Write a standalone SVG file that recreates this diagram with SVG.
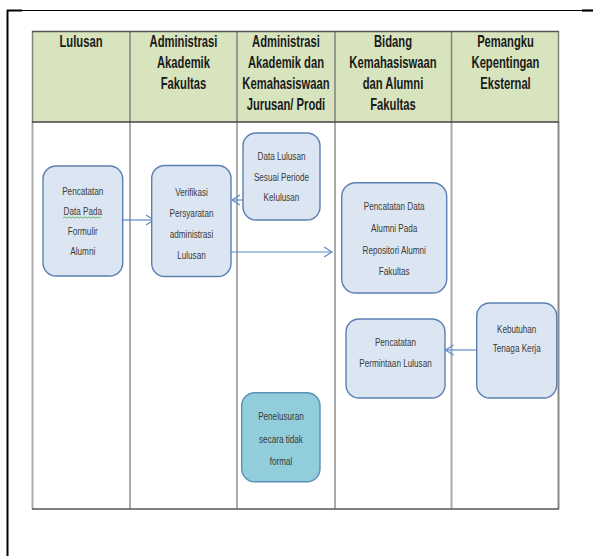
<svg xmlns="http://www.w3.org/2000/svg" width="593" height="556" viewBox="0 0 593 556">
<defs>
<style>
.hd{font-family:"Liberation Sans",Arial,sans-serif;font-weight:bold;font-size:17px;fill:#1a1a1a;text-anchor:middle}
.nt{font-family:"Liberation Sans",Arial,sans-serif;font-size:11.5px;fill:#3a3a3a;text-anchor:middle}
.box{fill:#dce6f2;stroke:#5b7fb2;stroke-width:1.4}
.box2{fill:#92cddc;stroke:#5b8fb8;stroke-width:1.4}
.sep{stroke:#ababab;stroke-width:2}
.hsep{stroke:#808080;stroke-width:1.5}
.con{fill:none;stroke:#5b8cc8;stroke-width:1.2}
</style>
<marker id="ah" markerWidth="12" markerHeight="12" refX="9" refY="6" orient="auto" markerUnits="userSpaceOnUse">
<path d="M1,1 L9,6 L1,11" fill="none" stroke="#5b8cc8" stroke-width="1.2"/>
</marker>
</defs>
<rect width="593" height="556" fill="#ffffff"/>
<g id="frame">
<line x1="7.5" y1="10" x2="7.5" y2="556" stroke="#000" stroke-width="2"/>
<line x1="7" y1="10.5" x2="22" y2="10.5" stroke="#000" stroke-width="2"/>
<line x1="22" y1="10.5" x2="582" y2="10.5" stroke="#000" stroke-width="1.1"/>
<line x1="582" y1="10.5" x2="593" y2="10.5" stroke="#000" stroke-width="2.2"/>
</g>
<g id="table">
<rect x="32" y="31" width="527" height="91" fill="#d7e4bd"/>
<line class="sep" x1="130" y1="122" x2="130" y2="509"/>
<line class="sep" x1="237" y1="122" x2="237" y2="509"/>
<line class="sep" x1="335" y1="122" x2="335" y2="509"/>
<line class="sep" x1="451.5" y1="122" x2="451.5" y2="509"/>
<line class="sep" x1="32.5" y1="122" x2="32.5" y2="509"/>
<line x1="558.5" y1="122" x2="558.5" y2="509" stroke="#8a8a8a" stroke-width="2"/>
<line class="hsep" x1="130" y1="31" x2="130" y2="122"/>
<line class="hsep" x1="237" y1="31" x2="237" y2="122"/>
<line class="hsep" x1="335" y1="31" x2="335" y2="122"/>
<line class="hsep" x1="451.5" y1="31" x2="451.5" y2="122"/>
<line class="hsep" x1="32.5" y1="31" x2="32.5" y2="122"/>
<line class="hsep" x1="558.5" y1="31" x2="558.5" y2="122"/>
<line x1="32" y1="31.5" x2="559" y2="31.5" stroke="#555" stroke-width="1.5"/>
<line x1="32" y1="122" x2="559" y2="122" stroke="#444" stroke-width="1.5"/>
<line x1="32" y1="509" x2="559" y2="509" stroke="#555" stroke-width="1.6"/>
</g>
<g id="headers" transform="scale(0.66,1)">
<text class="hd" x="122.73" y="47.5">Lulusan</text>
<text class="hd" x="278.03" y="47.5">Administrasi</text>
<text class="hd" x="278.03" y="68.5">Akademik</text>
<text class="hd" x="278.03" y="89.5">Fakultas</text>
<text class="hd" x="433.33" y="47.5">Administrasi</text>
<text class="hd" x="433.33" y="68.5">Akademik dan</text>
<text class="hd" x="433.33" y="89.5">Kemahasiswaan</text>
<text class="hd" x="433.33" y="110.5">Jurusan/ Prodi</text>
<text class="hd" x="595.45" y="47.5">Bidang</text>
<text class="hd" x="595.45" y="68.5">Kemahasiswaan</text>
<text class="hd" x="595.45" y="89.5">dan Alumni</text>
<text class="hd" x="595.45" y="110.5">Fakultas</text>
<text class="hd" x="765.91" y="47.5">Pemangku</text>
<text class="hd" x="765.91" y="68.5">Kepentingan</text>
<text class="hd" x="765.91" y="89.5">Eksternal</text>
</g>
<g id="connectors">
<line class="con" x1="122.7" y1="220" x2="154" y2="220" marker-end="url(#ah)"/>
<line class="con" x1="243" y1="200" x2="232" y2="200" marker-end="url(#ah)"/>
<line class="con" x1="231" y1="252" x2="332" y2="252" marker-end="url(#ah)"/>
<line class="con" x1="476.7" y1="350" x2="445.5" y2="350" marker-end="url(#ah)"/>
</g>
<g id="node-pencatatan-formulir">
<rect class="box" x="43" y="166" width="79.7" height="110" rx="13"/>
<path d="M63,218 l2,-1 2,1 2,-1 2,1 2,-1 2,1 2,-1 2,1 2,-1 2,1 2,-1 2,1 2,-1 2,1 2,-1 2,1 2,-1 2,1 2,-1" fill="none" stroke="#4caf50" stroke-width="0.8"/>
<g transform="scale(0.709,1)">
<text class="nt" x="116.78" y="195.5">Pencatatan</text>
<text class="nt" x="116.78" y="215.5">Data Pada</text>
<text class="nt" x="116.78" y="235.5">Formulir</text>
<text class="nt" x="116.78" y="255.5">Alumni</text>
</g>
</g>
<g id="node-verifikasi">
<rect class="box" x="151.7" y="165.5" width="79.3" height="111" rx="13"/>
<g transform="scale(0.709,1)">
<text class="nt" x="270.1" y="196.5">Verifikasi</text>
<text class="nt" x="270.1" y="217.5">Persyaratan</text>
<text class="nt" x="270.1" y="238.5">administrasi</text>
<text class="nt" x="270.1" y="259">Lulusan</text>
</g>
</g>
<g id="node-data-lulusan">
<rect class="box" x="243" y="133" width="77" height="87" rx="13"/>
<g transform="scale(0.709,1)">
<text class="nt" x="397.04" y="160">Data Lulusan</text>
<text class="nt" x="397.04" y="181.5">Sesuai Periode</text>
<text class="nt" x="397.04" y="201.5">Kelulusan</text>
</g>
</g>
<g id="node-repositori">
<rect class="box" x="341.7" y="182.7" width="105" height="110.3" rx="14"/>
<g transform="scale(0.709,1)">
<text class="nt" x="556" y="210">Pencatatan Data</text>
<text class="nt" x="556" y="232">Alumni Pada</text>
<text class="nt" x="556" y="254.5">Repositori Alumni</text>
<text class="nt" x="556" y="275">Fakultas</text>
</g>
</g>
<g id="node-permintaan">
<rect class="box" x="346" y="319" width="99" height="79" rx="13"/>
<g transform="scale(0.709,1)">
<text class="nt" x="557.83" y="346.5">Pencatatan</text>
<text class="nt" x="557.83" y="367">Permintaan Lulusan</text>
</g>
</g>
<g id="node-kebutuhan">
<rect class="box" x="476.7" y="303" width="80" height="95" rx="13"/>
<g transform="scale(0.709,1)">
<text class="nt" x="728.77" y="333">Kebutuhan</text>
<text class="nt" x="728.77" y="352.5">Tenaga Kerja</text>
</g>
</g>
<g id="node-penelusuran">
<rect class="box2" x="241.7" y="392.7" width="78.3" height="89" rx="13"/>
<g transform="scale(0.709,1)">
<text class="nt" x="396.33" y="420.5">Penelusuran</text>
<text class="nt" x="396.33" y="443">secara tidak</text>
<text class="nt" x="396.33" y="465">formal</text>
</g>
</g>
</svg>
